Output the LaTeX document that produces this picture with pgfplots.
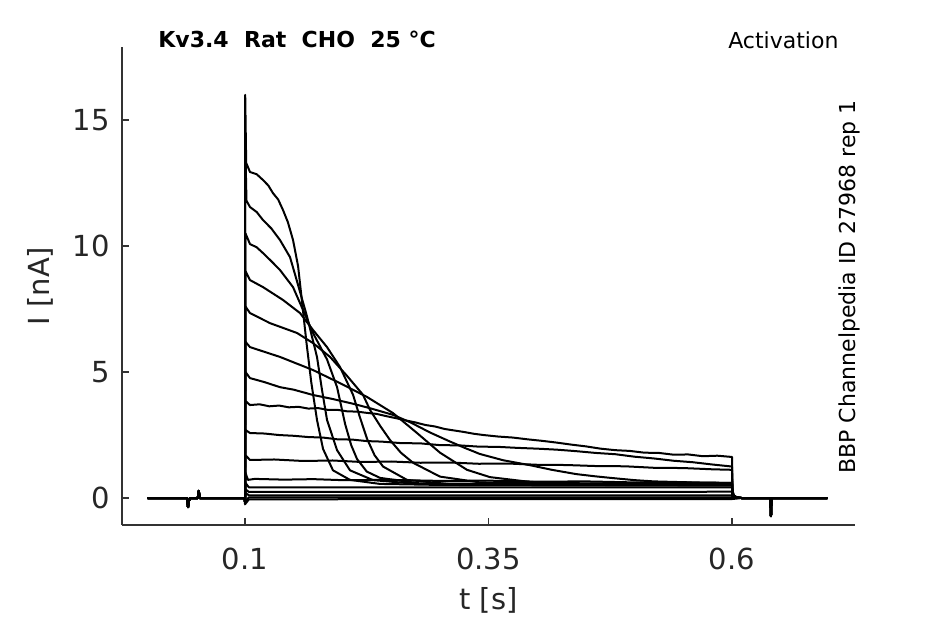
\documentclass[border=0pt]{standalone}
\usepackage{pgfplots}
\pgfplotsset{compat=1.18}
\usepackage{fontspec}
\setmainfont{DejaVu Sans}
\begin{document}
\begin{tikzpicture}
\path[use as bounding box] (0,0) rectangle (472.5pt,312pt);
\begin{axis}[
  at={(61pt,49.5pt)}, anchor=south west,
  width=366.5pt, height=239pt, scale only axis,
  xmin=-0.0263, xmax=0.7263, ymin=-1.07, ymax=17.9,
  axis x line*=bottom, axis y line*=left,
  axis line style={black!80, line width=0.6pt, -},
  tick align=inside, major tick length=3.5pt,
  tick style={black!80, line width=0.6pt},
  xtick={0.1,0.35,0.6}, xticklabels={0.1,0.35,0.6},
  ytick={0,5,10,15}, yticklabels={0,5,10,15},
  /pgf/number format/assume math mode=true,
  ticklabel style={font=\fontsize{14.5}{17}\selectfont, text=black!85},
  xticklabel style={yshift=-8pt},
  yticklabel style={xshift=-2.7pt},
  xlabel={t [s]}, ylabel={I [nA]},
  label style={font=\fontsize{14.5}{17}\selectfont, text=black!85},
  xlabel style={at={(axis description cs:0.5,-0.157)}, anchor=center},
  ylabel style={at={(axis description cs:-0.112,0.5)}, anchor=center, rotate=0},
  clip=false,
  cycle list={{black, solid, mark=none}},
  every axis plot/.append style={black, solid, no markers, line width=1.0pt, line join=round},
]
% T1
\addplot coordinates {(0,0) (0.0405,0) (0.0415,-0.36) (0.0425,-0.1) (0.044,0) (0.0515,0) (0.0525,0.28) (0.0535,0) (0.0998,0) (0.1,-0.15)
 (0.1002,16.0) (0.1012,13.3) (0.1051,12.94) (0.112,12.85) (0.1185,12.62) (0.124,12.4) (0.1287,12.10) (0.134,11.85) (0.1390,11.43) (0.144,10.95) (0.1493,10.24) (0.1545,9.2) (0.1585,7.8) (0.1630,6.2) (0.1680,4.6) (0.1739,3.1) (0.1801,1.95) (0.1903,1.1) (0.2078,0.72) (0.2386,0.56) (0.30,0.52) (0.45,0.5) (0.6,0.5)
 (0.6005,0.15) (0.602,0.08) (0.605,0.02) (0.61,0) (0.6395,0) (0.640,-0.72) (0.6405,0) (0.698,0)};
% T2
\addplot coordinates {(0,0) (0.0405,0) (0.0415,-0.36) (0.0425,-0.1) (0.044,0) (0.0515,0) (0.0525,0.28) (0.0535,0) (0.0998,0) (0.1,-0.15)
 (0.1002,14.2) (0.1015,11.8) (0.1051,11.55) (0.112,11.35) (0.1185,11.03) (0.127,10.7) (0.1359,10.24) (0.1462,9.56) (0.1534,8.6) (0.1637,7.2) (0.1739,5.6) (0.1790,4.3) (0.1842,3.1) (0.1945,1.9) (0.2078,1.1) (0.2314,0.71) (0.2797,0.55) (0.45,0.52) (0.6,0.52)
 (0.6005,0.15) (0.602,0.08) (0.605,0.02) (0.61,0) (0.6395,0) (0.640,-0.72) (0.6405,0) (0.698,0)};
% T3
\addplot coordinates {(0,0) (0.0405,0) (0.0415,-0.36) (0.0425,-0.1) (0.044,0) (0.0515,0) (0.0525,0.28) (0.0535,0) (0.0998,0) (0.1,-0.15)
 (0.1005,10.5) (0.1051,10.08) (0.112,9.95) (0.1185,9.72) (0.127,9.4) (0.1359,9.05) (0.1493,8.37) (0.1596,7.46) (0.1698,6.55) (0.1842,5.5) (0.1945,4.4) (0.2027,2.95) (0.2090,2.1) (0.2150,1.55) (0.2250,1.05) (0.2386,0.8) (0.2797,0.58) (0.45,0.55) (0.6,0.55)
 (0.6005,0.15) (0.602,0.08) (0.605,0.02) (0.61,0) (0.6395,0) (0.640,-0.72) (0.6405,0) (0.698,0)};
% T4
\addplot coordinates {(0,0) (0.0405,0) (0.0415,-0.36) (0.0425,-0.1) (0.044,0) (0.0515,0) (0.0525,0.28) (0.0535,0) (0.0998,0) (0.1,-0.15)
 (0.1005,9.0) (0.1051,8.65) (0.1185,8.37) (0.1390,7.86) (0.1565,7.34) (0.1698,6.67) (0.1842,5.99) (0.1975,5.2) (0.2109,4.1) (0.2180,3.2) (0.2253,2.35) (0.2330,1.7) (0.2417,1.25) (0.2663,0.72) (0.3105,0.55) (0.45,0.52) (0.6,0.5)
 (0.6005,0.15) (0.602,0.08) (0.605,0.02) (0.61,0) (0.6395,0) (0.640,-0.72) (0.6405,0) (0.698,0)};
% T5
\addplot coordinates {(0,0) (0.0405,0) (0.0415,-0.36) (0.0425,-0.1) (0.044,0) (0.0515,0) (0.0525,0.28) (0.0535,0) (0.0998,0) (0.1,-0.15)
 (0.1005,7.6) (0.1051,7.34) (0.1257,6.94) (0.1534,6.55) (0.1698,6.15) (0.1873,5.6) (0.2047,4.85) (0.2211,4.1) (0.2283,3.5) (0.2390,2.85) (0.2489,2.3) (0.2600,1.8) (0.2725,1.4) (0.3002,0.85) (0.3413,0.62) (0.45,0.56) (0.6,0.55)
 (0.6005,0.15) (0.602,0.08) (0.605,0.02) (0.61,0) (0.6395,0) (0.640,-0.72) (0.6405,0) (0.698,0)};
% T6
\addplot coordinates {(0,0) (0.0405,0) (0.0415,-0.36) (0.0425,-0.1) (0.044,0) (0.0515,0) (0.0525,0.28) (0.0535,0) (0.0998,0) (0.1,-0.15)
 (0.1005,6.2) (0.1051,5.99) (0.1359,5.6) (0.1698,5.08) (0.1975,4.56) (0.2253,4.01) (0.2520,3.37) (0.2766,2.58) (0.3002,1.8) (0.3279,1.12) (0.3515,0.83) (0.3926,0.64) (0.45,0.58) (0.6,0.56)
 (0.6005,0.15) (0.602,0.08) (0.605,0.02) (0.61,0) (0.6395,0) (0.640,-0.72) (0.6405,0) (0.698,0)};
% T7
\addplot coordinates {(0,0) (0.0405,0) (0.0415,-0.36) (0.0425,-0.1) (0.044,0) (0.0515,0) (0.0525,0.28) (0.0535,0) (0.0998,0) (0.1,-0.15)
 (0.1005,5.0) (0.1051,4.76) (0.12,4.6) (0.1359,4.40) (0.15,4.3) (0.1698,4.09) (0.19,3.93) (0.21,3.75) (0.225,3.6) (0.2386,3.45) (0.252,3.3) (0.27,3.0) (0.29,2.6) (0.31,2.25) (0.325,2.0) (0.341,1.75) (0.365,1.5) (0.393,1.3) (0.415,1.12) (0.44,0.95) (0.46,0.86) (0.478,0.79) (0.5,0.71) (0.52,0.66) (0.56,0.62) (0.6,0.6)
 (0.6005,0.15) (0.602,0.08) (0.605,0.02) (0.61,0) (0.6395,0) (0.640,-0.72) (0.6405,0) (0.698,0)};
% T8
\addplot coordinates {(0,0) (0.0405,0) (0.0415,-0.36) (0.0425,-0.1) (0.044,0) (0.0515,0) (0.0525,0.28) (0.0535,0) (0.0998,0) (0.1,-0.15)
 (0.1005,3.85) (0.1051,3.69) (0.115,3.72) (0.125,3.64) (0.135,3.67) (0.145,3.6) (0.155,3.62) (0.165,3.55) (0.175,3.57) (0.185,3.5) (0.195,3.5) (0.205,3.44) (0.215,3.43) (0.225,3.38) (0.235,3.34) (0.245,3.25) (0.255,3.17) (0.265,3.08) (0.275,3.0) (0.285,2.9) (0.295,2.84) (0.305,2.74) (0.315,2.68) (0.325,2.62) (0.335,2.55) (0.345,2.5) (0.36,2.44) (0.375,2.40) (0.39,2.33) (0.405,2.27) (0.42,2.2) (0.435,2.12) (0.45,2.05) (0.465,1.96) (0.48,1.9) (0.495,1.87) (0.51,1.8) (0.525,1.79) (0.54,1.72) (0.555,1.73) (0.57,1.66) (0.585,1.68) (0.6,1.63)
 (0.6005,0.3) (0.602,0.1) (0.605,0.02) (0.61,0) (0.6395,0) (0.640,-0.72) (0.6405,0) (0.698,0)};
% T9
\addplot coordinates {(0,0) (0.0405,0) (0.0415,-0.36) (0.0425,-0.1) (0.044,0) (0.0515,0) (0.0525,0.28) (0.0535,0) (0.0998,0) (0.1,-0.15)
 (0.1005,2.7) (0.1051,2.58) (0.12,2.56) (0.135,2.5) (0.15,2.47) (0.165,2.42) (0.18,2.4) (0.195,2.33) (0.21,2.32) (0.225,2.26) (0.24,2.24) (0.26,2.18) (0.28,2.17) (0.3,2.1) (0.32,2.09) (0.34,2.04) (0.36,2.03) (0.38,1.99) (0.40,1.96) (0.42,1.92) (0.44,1.86) (0.46,1.79) (0.48,1.74) (0.50,1.64) (0.52,1.57) (0.54,1.48) (0.56,1.42) (0.58,1.33) (0.6,1.25)
 (0.6005,0.25) (0.602,0.1) (0.605,0.02) (0.61,0) (0.6395,0) (0.640,-0.72) (0.6405,0) (0.698,0)};
% T10
\addplot coordinates {(0,0) (0.0405,0) (0.0415,-0.36) (0.0425,-0.1) (0.044,0) (0.0515,0) (0.0525,0.28) (0.0535,0) (0.0998,0) (0.1,-0.15)
 (0.1005,1.7) (0.1051,1.51) (0.13,1.53) (0.16,1.47) (0.19,1.49) (0.22,1.43) (0.25,1.45) (0.28,1.4) (0.31,1.41) (0.34,1.36) (0.37,1.37) (0.40,1.32) (0.43,1.31) (0.46,1.27) (0.49,1.26) (0.52,1.2) (0.55,1.19) (0.58,1.14) (0.6,1.12)
 (0.6005,0.2) (0.602,0.08) (0.605,0.02) (0.61,0) (0.6395,0) (0.640,-0.72) (0.6405,0) (0.698,0)};
% T11
\addplot coordinates {(0,0) (0.0405,0) (0.0415,-0.36) (0.0425,-0.1) (0.044,0) (0.0515,0) (0.0525,0.28) (0.0535,0) (0.0998,0) (0.1,-0.15)
 (0.1005,1.0) (0.103,0.72) (0.11,0.76) (0.14,0.73) (0.17,0.75) (0.2,0.71) (0.25,0.72) (0.3,0.68) (0.35,0.69) (0.4,0.65) (0.45,0.66) (0.5,0.62) (0.55,0.62) (0.6,0.6)
 (0.6005,0.15) (0.602,0.06) (0.605,0.02) (0.61,0) (0.6395,0) (0.640,-0.72) (0.6405,0) (0.698,0)};
% T12
\addplot coordinates {(0,0) (0.0405,0) (0.0415,-0.36) (0.0425,-0.1) (0.044,0) (0.0515,0) (0.0525,0.28) (0.0535,0) (0.0998,0) (0.1,-0.15)
 (0.1005,0.6) (0.104,0.42) (0.3,0.42) (0.6,0.42)
 (0.6005,0.1) (0.603,0.02) (0.61,0) (0.6395,0) (0.640,-0.72) (0.6405,0) (0.698,0)};
% T13
\addplot coordinates {(0,0) (0.0405,0) (0.0415,-0.36) (0.0425,-0.1) (0.044,0) (0.0515,0) (0.0525,0.28) (0.0535,0) (0.0998,0) (0.1,-0.15)
 (0.1005,0.35) (0.104,0.24) (0.6,0.25)
 (0.6005,0.05) (0.61,0) (0.6395,0) (0.640,-0.72) (0.6405,0) (0.698,0)};
% T14
\addplot coordinates {(0,0) (0.0405,0) (0.0415,-0.36) (0.0425,-0.1) (0.044,0) (0.0515,0) (0.0525,0.28) (0.0535,0) (0.0998,0) (0.1,-0.15)
 (0.1005,0.2) (0.104,0.11) (0.6,0.11)
 (0.6005,0.03) (0.61,0) (0.6395,0) (0.640,-0.72) (0.6405,0) (0.698,0)};
% T15
\addplot coordinates {(0,0) (0.0405,0) (0.0415,-0.36) (0.0425,-0.1) (0.044,0) (0.0515,0) (0.0525,0.28) (0.0535,0) (0.0998,0) (0.1,-0.15)
 (0.104,0.03) (0.6,0.03) (0.61,0) (0.6395,0) (0.640,-0.72) (0.6405,0) (0.698,0)};
% T16
\addplot coordinates {(0,0) (0.0405,0) (0.0415,-0.36) (0.0425,-0.1) (0.044,0) (0.0515,0) (0.0525,0.28) (0.0535,0) (0.0998,0) (0.1,-0.25)
 (0.104,-0.05) (0.6,-0.04) (0.61,0) (0.6395,0) (0.640,-0.72) (0.6405,0) (0.698,0)};
\node[anchor=west, font=\fontsize{11}{13}\selectfont\bfseries] at (axis description cs:0.04,1.015) {Kv3.4\ \ Rat\ \ CHO\ \ 25 °C};
\node[anchor=east, font=\fontsize{11}{13}\selectfont] at (axis description cs:0.987,1.015) {Activation};
\node[rotate=90, anchor=center, font=\fontsize{11}{13}\selectfont] at (axis description cs:0.992,0.498) {BBP Channelpedia ID 27968 rep 1};
\end{axis}
\end{tikzpicture}
\end{document}
